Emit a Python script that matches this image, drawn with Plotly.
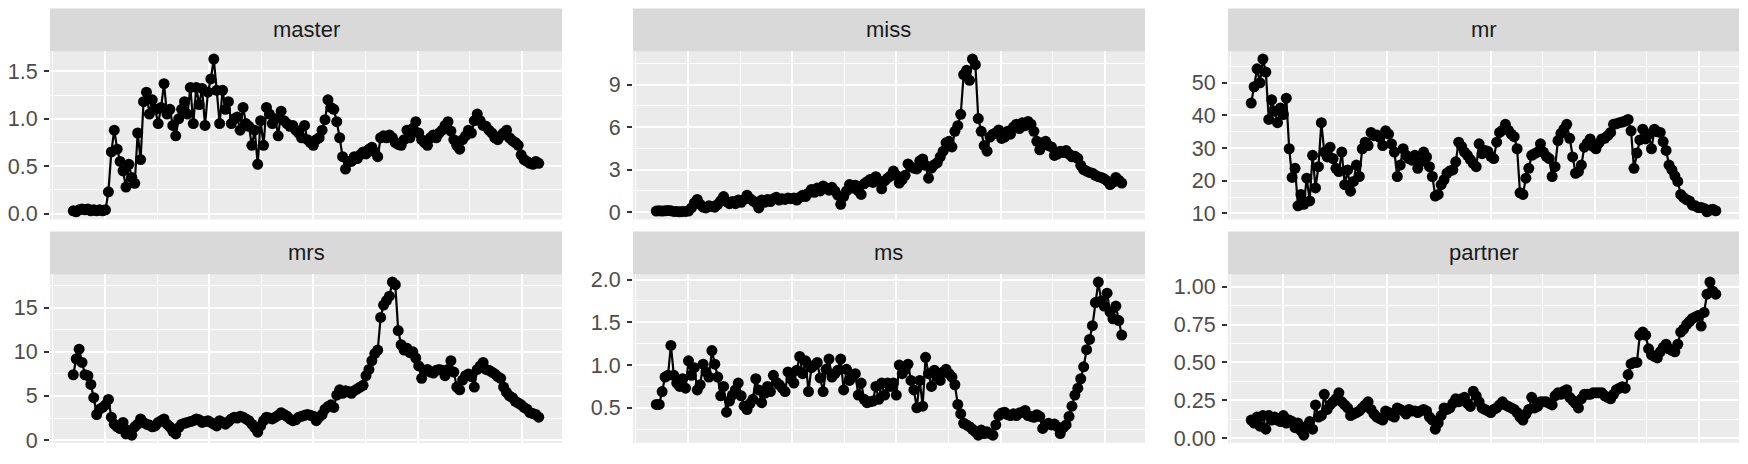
import plotly.graph_objects as go

N = 160
t = list(range(N))

master = [0.03, 0.02, 0.04, 0.05, 0.04, 0.05, 0.03, 0.04, 0.03, 0.04,
          0.03, 0.04, 0.23, 0.65, 0.88, 0.68, 0.55, 0.45, 0.28, 0.52,
          0.38, 0.32, 0.85, 0.57, 1.18, 1.28, 1.05, 1.20, 1.10, 0.95,
          1.12, 1.37, 1.05, 1.10, 0.93, 0.82, 1.00, 1.10, 1.18, 1.05,
          1.33, 0.95, 1.33, 1.15, 1.32, 0.93, 1.28, 1.42, 1.63, 1.30,
          0.95, 1.30, 1.10, 1.18, 0.95, 1.00, 1.02, 0.88, 1.12, 0.95,
          0.92, 0.72, 0.88, 0.52, 0.98, 0.72, 1.12, 1.05, 0.95, 1.00,
          0.82, 1.08, 0.98, 0.95, 0.92, 0.93, 0.88, 0.85, 0.80, 0.93,
          0.78, 0.75, 0.72, 0.78, 0.80, 0.88, 0.99, 1.20, 1.12, 1.10,
          0.97, 0.80, 0.60, 0.47, 0.55, 0.55, 0.60, 0.58, 0.62, 0.65,
          0.63, 0.68, 0.70, 0.65, 0.60, 0.80, 0.82, 0.80, 0.83, 0.80,
          0.75, 0.73, 0.72, 0.78, 0.88, 0.80, 0.90, 0.97, 0.85, 0.78,
          0.75, 0.72, 0.80, 0.83, 0.80, 0.85, 0.88, 0.93, 0.97, 0.87,
          0.78, 0.72, 0.68, 0.78, 0.82, 0.88, 0.85, 0.98, 1.05, 0.98,
          0.93, 0.92, 0.88, 0.85, 0.80, 0.78, 0.82, 0.85, 0.88, 0.80,
          0.77, 0.75, 0.72, 0.62, 0.57, 0.55, 0.53, 0.52, 0.55, 0.53]

miss = [0.08, 0.10, 0.08, 0.10, 0.12, 0.10, 0.05, 0.05, 0.03, 0.05,
        0.05, 0.08, 0.30, 0.65, 0.90, 0.55, 0.35, 0.30, 0.45, 0.40,
        0.35, 0.55, 0.80, 1.10, 0.75, 0.60, 0.75, 0.60, 0.85, 0.70,
        0.90, 1.20, 0.95, 0.80, 0.65, 0.30, 0.85, 0.70, 0.90, 0.75,
        0.95, 1.05, 0.85, 0.95, 0.90, 1.00, 0.95, 1.00, 0.85, 1.05,
        1.20, 1.10, 1.35, 1.60, 1.40, 1.70, 1.50, 1.85, 1.70, 1.55,
        1.75, 1.50, 1.20, 0.55, 1.10, 1.50, 1.95, 1.70, 1.90, 1.50,
        1.25, 2.00, 2.15, 2.30, 2.10, 2.50, 2.20, 1.65, 2.20, 2.40,
        2.55, 2.90, 2.60, 2.05, 2.30, 2.60, 3.40, 3.20, 3.10, 3.05,
        3.60, 3.75, 3.30, 2.40, 3.10, 3.35, 3.50, 3.90, 4.30, 4.90,
        5.00, 4.60, 5.70, 6.10, 6.90, 9.70, 10.00, 9.30, 10.80, 10.40,
        6.60, 5.70, 4.70, 4.30, 5.30, 5.50, 5.60, 5.80, 5.20, 5.30,
        5.70, 5.50, 6.00, 6.20, 5.90, 6.30, 6.10, 6.40, 6.20, 5.70,
        5.00, 4.40, 4.90, 5.00, 4.70, 4.60, 4.00, 4.10, 4.30, 4.20,
        4.35, 4.10, 3.90, 3.95, 3.80, 3.30, 3.00, 2.90, 2.80, 2.75,
        2.60, 2.50, 2.45, 2.35, 2.20, 1.95, 2.10, 2.45, 2.25, 2.05]

mr = [43.8, 48.8, 54.3, 50.0, 57.3, 53.3, 38.8, 44.8, 41.3, 37.8,
      42.3, 40.3, 45.3, 29.8, 21.0, 23.8, 12.3, 15.8, 12.8, 20.8,
      13.8, 27.8, 17.8, 24.3, 37.8, 28.8, 27.3, 30.3, 26.8, 23.8,
      22.8, 28.8, 18.8, 23.3, 16.8, 19.8, 24.8, 21.3, 29.8, 31.8,
      30.8, 34.8, 33.8, 34.0, 33.3, 30.8, 35.3, 34.3, 31.3, 28.8,
      21.3, 24.8, 29.8, 27.8, 26.8, 26.3, 27.8, 23.8, 25.8, 28.8,
      27.3, 24.3, 21.3, 15.3, 15.8, 18.8, 20.3, 22.3, 23.0, 23.3,
      25.8, 31.8, 30.5, 28.8, 27.8, 26.5, 25.3, 24.3, 31.3, 28.3,
      29.3, 29.0, 27.5, 26.8, 31.8, 34.8, 35.5, 37.3, 35.5, 34.3,
      33.5, 29.8, 16.3, 15.8, 20.8, 23.8, 27.8, 28.3, 28.8, 31.3,
      28.8, 27.5, 26.8, 21.3, 24.3, 32.3, 34.5, 35.8, 37.3, 33.0,
      27.3, 22.3, 22.8, 24.8, 30.3, 31.5, 32.8, 30.5, 29.8, 31.5,
      32.8, 33.0, 33.8, 34.8, 37.3, 37.5, 37.8, 38.0, 38.3, 38.8,
      35.3, 23.8, 28.5, 32.5, 35.8, 32.8, 34.3, 29.8, 35.8, 35.0,
      34.8, 32.0, 29.3, 24.8, 23.3, 21.5, 19.8, 15.8, 14.8, 14.2,
      13.8, 12.5, 12.3, 11.8, 11.8, 11.5, 10.5, 11.0, 11.3, 10.8]

mrs = [7.4, 9.2, 10.3, 8.8, 7.4, 7.3, 6.3, 4.8, 2.9, 3.5,
       3.7, 4.0, 4.6, 2.6, 1.8, 1.5, 1.3, 2.0, 0.7, 1.1,
       0.55, 1.5, 1.8, 2.4, 2.0, 1.8, 1.7, 1.5, 1.6, 2.0,
       2.2, 2.4, 1.8, 1.5, 1.0, 0.7, 1.4, 1.8, 1.9, 2.0,
       2.1, 2.2, 2.4, 2.3, 2.0, 2.1, 2.2, 2.0, 1.8, 1.6,
       2.2, 2.0, 1.8, 2.1, 2.4, 2.6, 2.5, 2.7, 2.6, 2.4,
       2.2, 1.8, 1.4, 0.9, 1.6, 2.2, 2.6, 2.5, 2.4, 2.6,
       2.8, 3.1, 2.9, 2.7, 2.4, 2.2, 2.3, 2.6, 2.7, 2.8,
       2.9, 2.8, 2.7, 2.2, 2.6, 2.9, 3.5, 3.8, 4.0, 3.7,
       5.1, 5.7, 5.3, 5.6, 5.5, 5.3, 5.6, 5.8, 6.0, 6.2,
       7.3, 8.0, 9.0, 9.8, 10.2, 13.9, 15.3, 15.8, 16.3, 17.9,
       17.6, 12.4, 10.8, 10.2, 10.4, 9.9, 10.0, 9.3, 8.4, 7.0,
       7.9, 8.0, 7.7, 7.6, 7.9, 8.0, 7.9, 7.3, 8.0, 9.0,
       7.7, 6.0, 5.7, 6.8, 7.3, 7.5, 7.2, 6.0, 8.0, 8.4,
       8.8, 8.0, 7.9, 7.7, 7.5, 7.2, 7.0, 6.0, 5.4, 5.0,
       4.8, 4.4, 4.2, 4.0, 3.7, 3.5, 3.1, 3.0, 2.9, 2.6]

ms = [0.54, 0.54, 0.69, 0.86, 0.88, 1.23, 0.88, 0.79, 0.75, 0.84,
      0.73, 1.05, 0.88, 0.97, 0.71, 0.77, 1.01, 0.92, 0.86, 1.17,
      1.01, 0.86, 0.64, 0.75, 0.45, 0.58, 0.65, 0.71, 0.79, 0.64,
      0.52, 0.48, 0.55, 0.60, 0.84, 0.71, 0.56, 0.67, 0.75, 0.69,
      0.88, 0.80, 0.77, 0.73, 0.69, 0.92, 0.84, 0.79, 0.94, 1.10,
      0.90, 1.05, 0.69, 0.97, 1.00, 1.03, 0.85, 0.69, 0.95, 1.07,
      0.86, 0.90, 0.94, 1.07, 0.71, 0.95, 0.82, 0.86, 0.90, 0.65,
      0.79, 0.60, 0.56, 0.57, 0.58, 0.75, 0.60, 0.79, 0.65, 0.79,
      0.75, 0.79, 0.65, 1.00, 0.90, 0.95, 1.01, 0.82, 0.71, 0.50,
      0.82, 0.52, 1.09, 0.90, 0.75, 0.94, 0.86, 0.82, 0.92, 0.95,
      0.90, 0.86, 0.77, 0.54, 0.43, 0.32, 0.30, 0.28, 0.25, 0.22,
      0.18, 0.24, 0.20, 0.22, 0.20, 0.18, 0.30, 0.41, 0.44, 0.45,
      0.42, 0.41, 0.43, 0.41, 0.44, 0.45, 0.47, 0.41, 0.40, 0.39,
      0.42, 0.40, 0.26, 0.30, 0.32, 0.30, 0.31, 0.28, 0.20, 0.27,
      0.30, 0.40, 0.52, 0.65, 0.73, 0.84, 0.98, 1.18, 1.30, 1.46,
      1.73, 1.97, 1.75, 1.69, 1.84, 1.62, 1.54, 1.69, 1.52, 1.35]

partner = [0.12, 0.10, 0.14, 0.08, 0.15, 0.06, 0.15, 0.12, 0.14, 0.12,
           0.11, 0.15, 0.10, 0.12, 0.11, 0.07, 0.10, 0.05, 0.02, 0.08,
           0.11, 0.06, 0.22, 0.14, 0.15, 0.29, 0.19, 0.22, 0.24, 0.26,
           0.30, 0.24, 0.22, 0.20, 0.15, 0.16, 0.17, 0.18, 0.20, 0.22,
           0.24, 0.19, 0.16, 0.14, 0.13, 0.12, 0.18, 0.17, 0.15, 0.14,
           0.20, 0.19, 0.18, 0.16, 0.19, 0.18, 0.18, 0.17, 0.18, 0.19,
           0.18, 0.14, 0.12, 0.06, 0.10, 0.15, 0.20, 0.19, 0.20, 0.23,
           0.26, 0.24, 0.26, 0.27, 0.23, 0.21, 0.31, 0.28, 0.24, 0.20,
           0.19, 0.18, 0.17, 0.19, 0.20, 0.22, 0.24, 0.22, 0.21, 0.20,
           0.19, 0.17, 0.14, 0.12, 0.16, 0.19, 0.27, 0.20, 0.21, 0.24,
           0.24, 0.24, 0.23, 0.22, 0.28, 0.30, 0.29, 0.31, 0.32, 0.27,
           0.25, 0.23, 0.20, 0.26, 0.29, 0.29, 0.29, 0.30, 0.30, 0.30,
           0.30, 0.28, 0.27, 0.26, 0.29, 0.32, 0.33, 0.34, 0.33, 0.42,
           0.49, 0.50, 0.50, 0.68, 0.70, 0.68, 0.59, 0.55, 0.54, 0.53,
           0.57, 0.60, 0.62, 0.59, 0.58, 0.57, 0.62, 0.70, 0.72, 0.75,
           0.77, 0.79, 0.80, 0.81, 0.74, 0.83, 0.95, 1.03, 0.97, 0.95]

facet_names = ["master", "miss", "mr", "mrs", "ms", "partner"]
facet_values = [master, miss, mr, mrs, ms, partner]
y_dtick = [0.5, 3, 10, 5, 0.5, 0.25]
y_tick0 = [0, 0, 10, 0, 0.5, 0]
y_format = [".1f", "d", "d", "d", ".1f", ".2f"]

# ---- styling / layout ----
W, H = 1748, 464
FONT = "Liberation Sans, Arial, Helvetica, sans-serif"
col_px = [(50, 562), (633, 1145), (1228, 1739)]
row_panel_px = [(47, 221), (278, 452.5)]
strip_h = 44.5
x_grid_first = 10.83
x_grid_step = 17.8

fig = go.Figure()
shapes = []
annotations = []
for k, (name, vals) in enumerate(zip(facet_names, facet_values)):
    r, c = divmod(k, 3)
    suf = "" if k == 0 else str(k + 1)
    fig.add_trace(go.Scatter(
        x=t, y=vals, mode="lines+markers",
        xaxis="x" + suf, yaxis="y" + suf,
        line=dict(color="black", width=2.2),
        marker=dict(color="black", size=11, line=dict(width=0)),
        showlegend=False, hoverinfo="skip"))
    lo, hi = min(vals), max(vals)
    pad = 0.05 * (hi - lo)
    x0, x1 = col_px[c]
    top, bot = row_panel_px[r]
    xpad = 0.05 * (N - 1)
    fig.update_layout(**{
        "xaxis" + suf: dict(
            domain=[x0 / W, x1 / W], anchor="y" + suf,
            range=[-xpad, N - 1 + xpad],
            showticklabels=False, ticks="", zeroline=False, showline=False,
            tickmode="linear", tick0=x_grid_first, dtick=2 * x_grid_step,
            showgrid=True, gridcolor="white", gridwidth=2.2,
            minor=dict(tick0=x_grid_first, dtick=x_grid_step, showgrid=True,
                       gridcolor="white", gridwidth=1.1, ticks=""),
        ),
        "yaxis" + suf: dict(
            domain=[1 - bot / H, 1 - top / H], anchor="x" + suf,
            range=[lo - pad, hi + pad],
            tickmode="linear", tick0=y_tick0[k], dtick=y_dtick[k],
            tickformat=y_format[k],
            ticks="outside", ticklen=5, tickwidth=2, tickcolor="#333333",
            tickfont=dict(family=FONT, size=21.5, color="#4D4D4D"),
            ticklabelstandoff=2,
            zeroline=False, showline=False,
            showgrid=True, gridcolor="white", gridwidth=2.2,
            minor=dict(tick0=y_tick0[k], dtick=y_dtick[k] / 2, showgrid=True,
                       gridcolor="white", gridwidth=1.1, ticks=""),
        ),
    })
    shapes.append(dict(type="rect", xref="paper", yref="paper",
                       x0=x0 / W, x1=x1 / W,
                       y0=1 - top / H, y1=1 - (top - strip_h) / H,
                       fillcolor="#D9D9D9", line=dict(width=0), layer="below"))
    annotations.append(dict(xref="paper", yref="paper",
                            x=(x0 + x1) / 2 / W, y=1 - (top - strip_h / 2) / H,
                            text=name, showarrow=False,
                            xanchor="center", yanchor="middle",
                            font=dict(family=FONT, size=22, color="#1A1A1A")))

fig.update_layout(
    width=W, height=H, autosize=False,
    margin=dict(l=0, r=0, t=0, b=0, pad=0),
    paper_bgcolor="white", plot_bgcolor="#EBEBEB",
    font=dict(family=FONT),
    shapes=shapes, annotations=annotations,
)

fig.write_html("out.html", config={"displayModeBar": False},
               post_script="document.body.style.margin='0';document.body.style.overflow='hidden';")
